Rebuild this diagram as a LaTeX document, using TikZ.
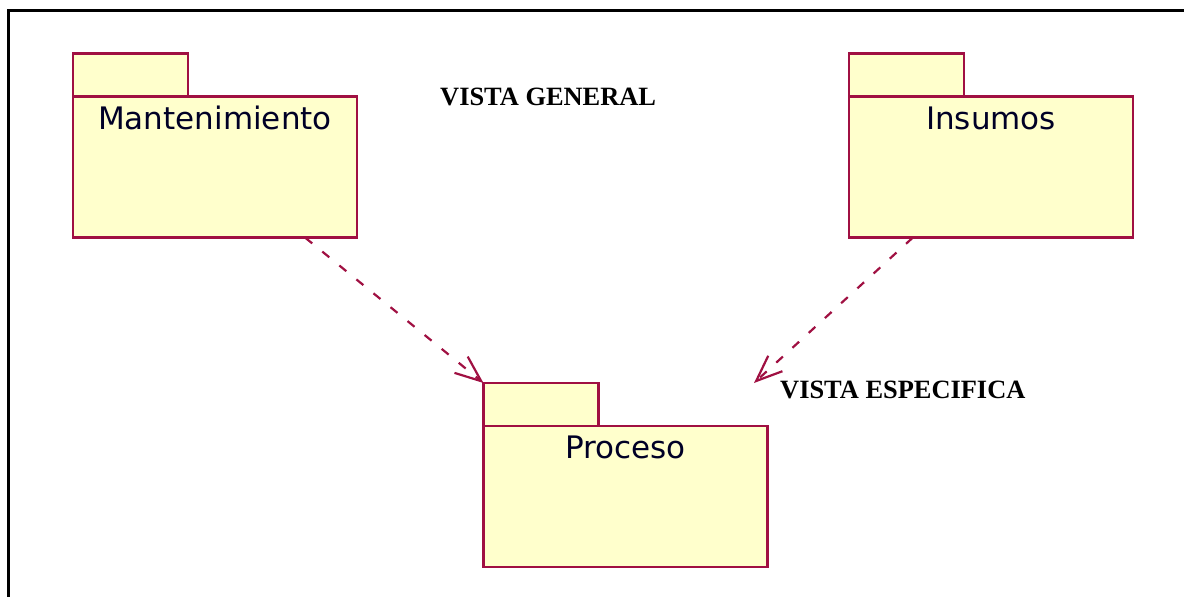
\documentclass[tikz,border=0pt]{standalone}
\usepackage{fontspec}
\setmainfont{Liberation Serif}
\newfontfamily\pkgfont{DejaVu Sans}
\usepackage{tikz}
\usetikzlibrary{arrows.meta,positioning}

\definecolor{pkgline}{RGB}{160,16,66}
\definecolor{pkgfill}{RGB}{255,255,204}

\begin{document}
\begin{tikzpicture}[
    x=1pt, y=-1pt,
    pkg/.style={draw=pkgline, fill=pkgfill, line width=2.5pt, outer sep=0pt, anchor=north west,
        minimum width=284pt, inner xsep=0pt, inner ysep=9.5pt, text height=23pt, text depth=99pt,
        font=\pkgfont\fontsize{31}{36}\selectfont, text=black!85!blue},
    pkgtab/.style={draw=pkgline, fill=pkgfill, line width=2.5pt, outer sep=0pt,
        minimum width=115pt, minimum height=43pt, inner sep=0pt},
    title/.style={font=\bfseries\fontsize{26.4}{30}\selectfont, inner sep=0pt, anchor=base west},
    dep/.style={draw=pkgline, line width=2.2pt, dash pattern=on 9pt off 13pt,
        -{Straight Barb[angle=44:28pt]}}
]
\useasboundingbox (0,0) rectangle (1184,597);
\draw[line width=2.2pt] (8.5,597) -- (8.5,10.5) -- (1184,10.5);

% paquetes
\node[pkg] (mant) at (73,96.7) {Mantenimiento};
\node[pkgtab, above right=0pt and 0pt of mant.north west] (manttab) {};
\node[pkg] (insu) at (849,96.7) {Insumos};
\node[pkgtab, above right=0pt and 0pt of insu.north west] (insutab) {};
\node[pkg] (proc) at (483.5,426) {Proceso};
\node[pkgtab, above right=0pt and 0pt of proc.north west] (proctab) {};

% vistas
\node[title] (general) at (440,105.7) {VISTA GENERAL};
\node[title] (especifica) at (780,398) {VISTA ESPECIFICA};
\coordinate (vistaesp) at (754,383);

\draw[dep] (mant.-38) -- (proctab.north west);
\draw[dep] (insu.-138) -- (vistaesp);
\end{tikzpicture}
\end{document}
